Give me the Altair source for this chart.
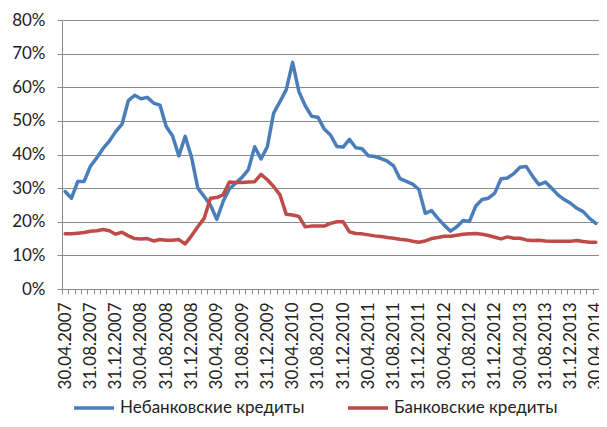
import calendar
import altair as alt
import pandas as pd

# Monthly dates 30.04.2007 .. 30.04.2014 (end of month)
dates = []
yy, mm = 2007, 4
for _ in range(85):
    dd = calendar.monthrange(yy, mm)[1]
    dates.append(f"{dd:02d}.{mm:02d}.{yy}")
    mm += 1
    if mm > 12:
        mm = 1
        yy += 1

series_names = ["Небанковские кредиты", "Банковские кредиты"]

nonbank = [
    29.0, 27.0, 32.0, 32.0, 36.5, 39.0, 41.8, 44.0, 46.8, 49.0,
    56.0, 57.6, 56.6, 57.0, 55.3, 54.7, 48.3, 45.5, 39.6, 45.4,
    39.2, 30.0, 27.5, 25.0, 20.7, 26.0, 29.8, 31.5, 33.2, 35.5,
    42.3, 38.7, 42.3, 52.3, 55.7, 59.3, 67.4, 58.7, 54.5, 51.4,
    51.1, 47.6, 45.8, 42.4, 42.2, 44.5, 42.0, 41.7, 39.6, 39.4,
    38.8, 38.0, 36.6, 32.8, 32.0, 31.2, 29.6, 22.5, 23.3, 21.0,
    19.0, 17.2, 18.5, 20.4, 20.1, 24.7, 26.6, 27.0, 28.5, 32.8,
    33.0, 34.3, 36.2, 36.4, 33.5, 31.0, 31.8, 30.0, 28.0, 26.6,
    25.5, 24.0, 23.0, 21.0, 19.5,
]

bank = [
    16.4, 16.4, 16.6, 16.8, 17.2, 17.3, 17.7, 17.3, 16.3, 16.9,
    15.8, 15.0, 14.9, 15.0, 14.3, 14.7, 14.5, 14.5, 14.7, 13.4,
    15.8, 18.5, 21.0, 27.0, 27.2, 28.0, 31.8, 31.7, 31.7, 31.8,
    31.9, 34.1, 32.5, 30.5, 28.0, 22.2, 22.0, 21.6, 18.5, 18.7,
    18.7, 18.7, 19.5, 20.0, 20.0, 17.0, 16.5, 16.4, 16.1, 15.8,
    15.6, 15.3, 15.1, 14.8, 14.6, 14.2, 13.9, 14.3, 15.0, 15.3,
    15.7, 15.7, 16.0, 16.3, 16.4, 16.5, 16.3, 15.9, 15.4, 14.9,
    15.5, 15.1, 15.1, 14.6, 14.4, 14.5, 14.3, 14.2, 14.2, 14.2,
    14.2, 14.4, 14.1, 13.9, 13.9,
]

y_ticks = [0, 10, 20, 30, 40, 50, 60, 70, 80]

rows = []
for s, vals in zip(series_names, [nonbank, bank]):
    for i, (d, v) in enumerate(zip(dates, vals)):
        rows.append({"date": d, "series": s, "value": v, "idx": i})
df = pd.DataFrame(rows)

blue = "#4A7EBB"
red = "#BE4B48"
grid = "#8C8C8C"
font = "Lato, 'Noto Sans', sans-serif"

chart = alt.Chart(df).mark_line(
    strokeJoin="round", strokeCap="round"
).encode(
    x=alt.X(
        "date:O",
        sort=dates,
        scale=alt.Scale(type="band", paddingInner=0, paddingOuter=0),
        axis=alt.Axis(
            title=None,
            labelAngle=-90,
            labelExpr="indexof(['04','08','12'], substring(datum.value, 3, 5)) >= 0 ? datum.value : ''",
            labelOverlap=False,
            tickBand="extent",
            tickSize=5,
            labelPadding=8,
            grid=False,
            domainColor=grid,
            tickColor=grid,
            labelFontSize=17,
            labelColor="#222222",
            labelFont=font,
        ),
    ),
    y=alt.Y(
        "value:Q",
        scale=alt.Scale(domain=[0, 80], nice=False, zero=True),
        axis=alt.Axis(
            title=None,
            values=y_ticks,
            labelExpr="datum.value + '%'",
            tickSize=5,
            labelPadding=12,
            gridColor=grid,
            domainColor=grid,
            tickColor=grid,
            labelFontSize=17,
            labelColor="#222222",
            labelFont=font,
        ),
    ),
    color=alt.Color(
        "series:N",
        sort=series_names,
        scale=alt.Scale(domain=series_names, range=[blue, red]),
        legend=alt.Legend(
            title=None,
            orient="none",
            legendX=10,
            legendY=366,
            direction="horizontal",
            symbolType="stroke",
            symbolSize=1600,
            symbolStrokeWidth=3.5,
            labelFontSize=17,
            labelFont=font,
            labelColor="#222222",
            labelLimit=400,
            labelOffset=4,
            columnPadding=36,
            padding=0,
        ),
    ),
    strokeWidth=alt.value(3.5),
    order=alt.Order("idx:Q"),
).properties(
    width=537,
    height=269,
    autosize=alt.AutoSizeParams(type="none"),
    padding={"left": 54, "top": 12, "right": 0, "bottom": 129},
).configure_view(stroke=None).configure(background="white")

chart.save("out.html", embed_options={"renderer": "svg", "actions": False})
